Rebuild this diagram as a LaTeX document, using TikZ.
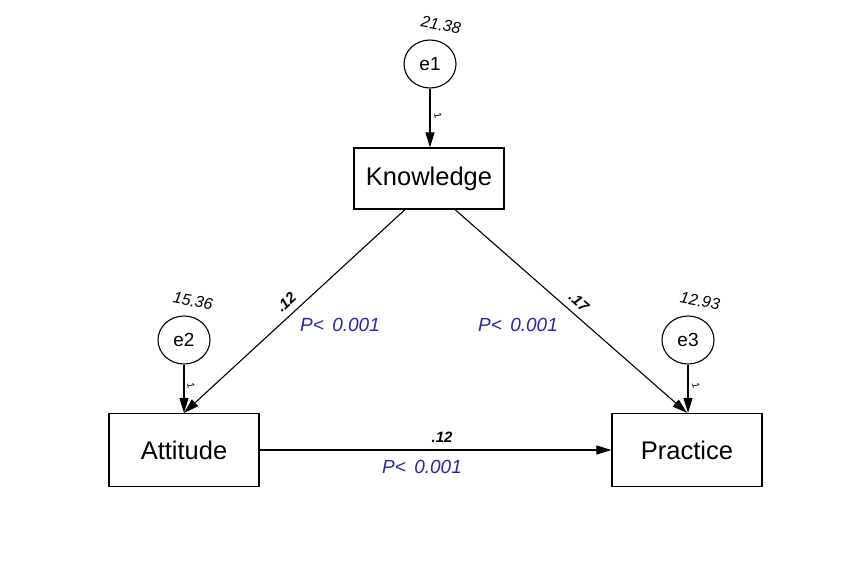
\documentclass[tikz,border=0pt]{standalone}
\usepackage{fontspec}
\setmainfont{Liberation Sans}
\usetikzlibrary{arrows.meta,shapes.geometric,calc}
\definecolor{pblue}{RGB}{40,40,160}
\begin{document}
\begin{tikzpicture}[x=1pt,y=-1pt,
  var/.style={draw, line width=1.2pt, rectangle, minimum width=150pt, inner sep=0pt, font=\fontsize{25.5}{30}\selectfont},
  err/.style={draw, line width=1.1pt, ellipse, minimum width=52pt, minimum height=48pt, inner sep=0pt, font=\fontsize{19}{22}\selectfont},
  path/.style={line width=1.1pt, -{Triangle[length=15pt,width=9pt]}},
  varlbl/.style={font=\fontsize{16}{18}\selectfont\itshape, rotate=-10, inner sep=1pt},
  coef/.style={font=\fontsize{15}{17}\selectfont\bfseries\itshape, inner sep=0.5pt},
  pval/.style={font=\fontsize{19}{22}\selectfont\itshape, text=pblue, inner sep=1pt},
  one/.style={font=\fontsize{10}{11}\selectfont, rotate=-80, inner sep=0.5pt}]
\useasboundingbox (0,0) rectangle (842,566);
\fill[white] (0,0) rectangle (842,566);
% observed variables
\node[var, minimum height=61pt] (K) at (429,178.5) {Knowledge};
\node[var, minimum height=73pt] (A) at (184,450) {Attitude};
\node[var, minimum height=73pt] (P) at (687,450) {Practice};
% error terms
\node[err] (e1) at (430,64) {e1};
\node[err] (e2) at (184,340) {e2};
\node[err] (e3) at (688,340) {e3};
% variances
\node[varlbl] (v1) at (441,25) {21.38};
\node[varlbl] (v2) at (193,301) {15.36};
\node[varlbl] (v3) at (700,301) {12.93};
% error paths
\draw[path] (e1.south) -- (e1.south |- K.north);
\draw[path] (e2.south) -- (e2.south |- A.north);
\draw[path] (e3.south) -- (e3.south |- P.north);
\node[one] (o1) at (438,116) {1};
\node[one] (o2) at (191,386) {1};
\node[one] (o3) at (696,386) {1};
% structural paths
\coordinate (kl) at ($(K.south)+(-24,0)$);
\coordinate (kr) at ($(K.south)+(26,0)$);
\draw[path] (kl) -- (A.north);
\draw[path] (kr) -- (P.north);
\draw[path] (A.east) -- (P.west);
% coefficients
\node[coef, rotate=43] (c1) at (286,302) {.12};
\node[coef, rotate=-41.5] (c2) at (579,302) {.17};
\node[coef] (c3) at (442,437) {.12};
\node[pval] (p1) at (340,325) {P<\ \,0.001};
\node[pval] (p2) at (518,325) {P<\ \,0.001};
\node[pval] (p3) at (422,467) {P<\ \,0.001};
\end{tikzpicture}
\end{document}
